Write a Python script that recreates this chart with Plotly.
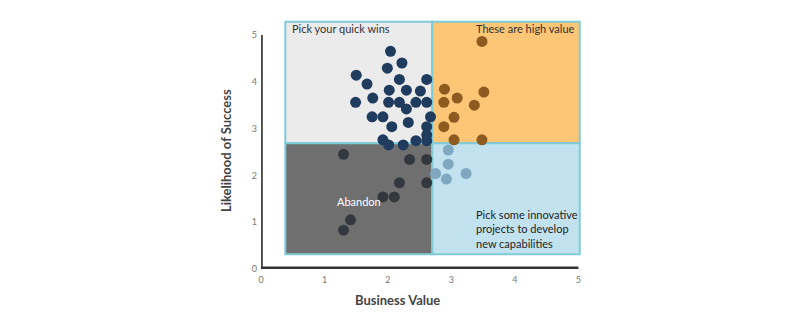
import plotly.graph_objects as go

# Data
navy_x = [2.04, 2.22, 1.99, 1.50, 2.18, 2.61, 1.67, 2.02, 2.29, 2.51, 1.76, 1.49, 2.01, 2.18, 2.44, 2.61,
          2.29, 1.75, 1.92, 2.67, 2.06, 2.32, 2.61, 2.61, 1.92, 2.01, 2.24, 2.44, 2.61]
navy_y = [4.65, 4.40, 4.29, 4.14, 4.05, 4.05, 3.95, 3.82, 3.82, 3.80, 3.65, 3.56, 3.56, 3.56, 3.56, 3.56,
          3.42, 3.25, 3.25, 3.25, 3.04, 3.13, 3.04, 2.86, 2.76, 2.65, 2.65, 2.74, 2.74]
dark_x = [1.30, 2.34, 2.61, 2.18, 2.61, 1.92, 2.10, 1.41, 1.30]
dark_y = [2.45, 2.34, 2.34, 1.84, 1.84, 1.54, 1.54, 1.05, 0.83]
brown_x = [3.48, 2.89, 3.51, 3.09, 2.88, 3.36, 3.04, 2.88, 3.04, 3.48]
brown_y = [4.86, 3.84, 3.78, 3.65, 3.56, 3.50, 3.24, 3.04, 2.76, 2.76]
light_x = [2.95, 2.95, 2.75, 2.92, 3.23]
light_y = [2.54, 2.24, 2.04, 1.92, 2.04]

tick_vals = [0, 1, 2, 3, 4, 5]
tick_text = ["0", "1", "2", "3", "4", "5"]

# quadrant bounds
qx = [0.383, 2.698, 5.02]
qy = [0.314, 2.686, 5.28]

FONT = "Lato"

fig = go.Figure()

quads = [
    (qx[0], qx[1], qy[1], qy[2], "#ebebeb"),
    (qx[1], qx[2], qy[1], qy[2], "#fdc576"),
    (qx[0], qx[1], qy[0], qy[1], "#6f6f6f"),
    (qx[1], qx[2], qy[0], qy[1], "#c2e2ef"),
]
for x0, x1, y0, y1, c in quads:
    fig.add_shape(type="rect", xref="x", yref="y", x0=x0, x1=x1, y0=y0, y1=y1,
                  fillcolor=c, line=dict(color="#7fcbd6", width=2), layer="below")

# axis lines
fig.add_shape(type="line", xref="x", yref="y", x0=0.01, x1=0.01, y0=0, y1=5,
              line=dict(color="#4a4a4a", width=2.5))
fig.add_shape(type="line", xref="x", yref="y", x0=0, x1=5, y0=0.02, y1=0.02,
              line=dict(color="#333333", width=3))

for xs, ys, col in [(navy_x, navy_y, "#1f3b5d"), (dark_x, dark_y, "#33383f"),
                    (brown_x, brown_y, "#8d5a1f"), (light_x, light_y, "#80a8c0")]:
    fig.add_trace(go.Scatter(x=xs, y=ys, mode="markers",
                             marker=dict(size=11, color=col, line=dict(width=0)),
                             showlegend=False, hoverinfo="skip"))

ann = dict(showarrow=False, xref="x", yref="y", font=dict(family=FONT, size=11, color="#333333"))
fig.add_annotation(x=qx[0] + 0.07, y=5.14, text="Pick your quick wins", xanchor="left", **ann)
fig.add_annotation(x=4.98, y=5.14, text="These are high value", xanchor="right", **ann)
fig.add_annotation(x=1.54, y=1.45, text="Abandon", xanchor="center", showarrow=False, xref="x", yref="y",
                   font=dict(family=FONT, size=11, color="#ffffff"))
fig.add_annotation(x=3.36, y=0.86, text="Pick some innovative<br>projects to develop<br>new capabilities",
                   xanchor="left", align="left", showarrow=False, xref="x", yref="y",
                   font=dict(family=FONT, size=11, color="#222222"))
fig.add_annotation(x=0.425, y=-0.124, text="<b>Business Value</b>", showarrow=False, xref="paper",
                   yref="paper", xanchor="center", yanchor="middle",
                   font=dict(family=FONT, size=13, color="#444444"))
fig.add_annotation(x=-0.109, y=0.472, text="<b>Likelihood of Success</b>", textangle=-90, showarrow=False,
                   xref="paper", yref="paper", xanchor="center", yanchor="middle",
                   font=dict(family=FONT, size=13, color="#444444"))

fig.update_xaxes(range=[0, 5.04], tickvals=tick_vals, ticktext=tick_text, showgrid=False, zeroline=False,
                 showline=False, ticks="", tickfont=dict(family=FONT, size=9, color="#777777"),
                 ticklabelstandoff=4, automargin=False)
fig.update_yaxes(range=[0, 5.34], tickvals=tick_vals, ticktext=tick_text, showgrid=False, zeroline=False,
                 showline=False, ticks="", tickfont=dict(family=FONT, size=9, color="#777777"),
                 ticklabelstandoff=3, automargin=False)
fig.update_layout(width=800, height=319, margin=dict(l=261, r=219, t=19, b=50),
                  plot_bgcolor="white", paper_bgcolor="white")

fig.write_html("out.html")
